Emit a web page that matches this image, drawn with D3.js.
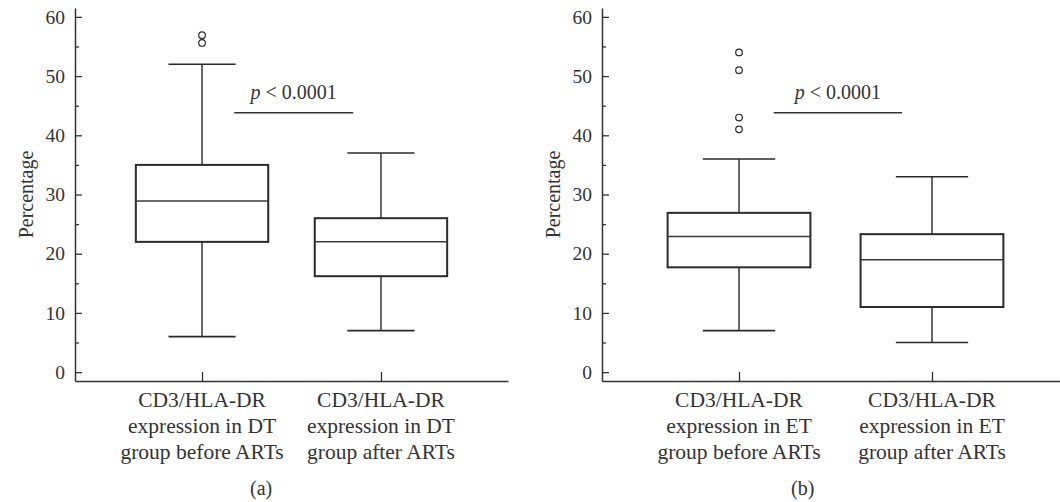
<!DOCTYPE html>
<html>
<head>
<meta charset="utf-8">
<script src="https://cdn.jsdelivr.net/npm/d3@7"></script>
<style>
  body { margin: 0; background: #fff; }
  text { font-family: "Liberation Serif", "Times New Roman", serif; fill: #333; }
</style>
</head>
<body>
<div id="chart"></div>
<script>
const width = 1060,
      height = 502;

// panel (a): DT group
const categoriesA = ["DT before", "DT after"];
const labelsA = [
  ["CD3/HLA-DR", "expression in DT", "group before ARTs"],
  ["CD3/HLA-DR", "expression in DT", "group after ARTs"]
];
const lowA = [6, 7];
const q1A = [22, 16.2];
const medianA = [28.9, 22];
const q3A = [35, 26];
const highA = [52, 37];
const outliersA = [[56.9, 55.6], []];

// panel (b): ET group
const categoriesB = ["ET before", "ET after"];
const labelsB = [
  ["CD3/HLA-DR", "expression in ET", "group before ARTs"],
  ["CD3/HLA-DR", "expression in ET", "group after ARTs"]
];
const lowB = [7, 5];
const q1B = [17.7, 11];
const medianB = [22.9, 19];
const q3B = [26.9, 23.3];
const highB = [36, 33];
const outliersB = [[54, 51, 43, 41], []];

const yTicks = [0, 10, 20, 30, 40, 50, 60];
const yMinorTicks = [5, 15, 25, 35, 45, 55];
const pText = "< 0.0001";
const pLevel = 43.8;

const svg = d3.select('#chart').append('svg')
  .attr('width', width)
  .attr('height', height);

const y = d3.scaleLinear().domain([-1.5, 61.5]).range([381, 8]);

function drawPanel(opt) {
  const g = svg.append("g");
  const x = d3.scalePoint().domain(opt.cats).range([opt.left, opt.right]).padding(0.71);
  const step = x.step();

  // y axis, ticks inward
  const yAxis = g.append("g")
    .attr("transform", `translate(${opt.left},0)`)
    .call(d3.axisLeft(y).tickValues(yTicks).tickSize(-7).tickSizeOuter(0).tickPadding(10));
  yAxis.selectAll("text").style("font-size", "19.5px").attr("fill", "#333");
  yAxis.selectAll("line").attr("stroke", "#333").attr("stroke-width", 1.3);
  yAxis.select(".domain").attr("stroke", "#333").attr("stroke-width", 1.5);

  g.append("g")
    .attr("transform", `translate(${opt.left},0)`)
    .call(d3.axisLeft(y).tickValues(yMinorTicks).tickSize(-4).tickSizeOuter(0).tickFormat(""))
    .call(s => s.select(".domain").remove())
    .selectAll("line").attr("stroke", "#333").attr("stroke-width", 1.3);

  // x axis
  const xAxis = g.append("g")
    .attr("transform", `translate(0,${y(-1.5)})`)
    .call(d3.axisBottom(x).tickSize(-9).tickSizeOuter(0).tickFormat(""));
  xAxis.selectAll("line").attr("stroke", "#333").attr("stroke-width", 1.3);
  xAxis.select(".domain").attr("stroke", "#333").attr("stroke-width", 1.5);

  // axis title
  g.append("text")
    .attr("transform", `translate(${opt.left - 42},${y(30)}) rotate(-90)`)
    .attr("text-anchor", "middle")
    .style("font-size", "20px")
    .text("Percentage");

  // category labels
  opt.cats.forEach((c, i) => {
    const t = g.append("text")
      .attr("text-anchor", "middle")
      .style("font-size", "21.5px");
    opt.labels[i].forEach((line, j) => {
      t.append("tspan")
        .attr("x", x(c))
        .attr("y", 407 + j * 26)
        .text(line);
    });
  });

  // boxes
  const boxW = step * 0.74, capW = step * 0.375;
  opt.cats.forEach((c, i) => {
    const cx = x(c);
    const b = g.append("g").attr("stroke", "#2a2a2a").attr("fill", "none");
    b.append("line")
      .attr("x1", cx).attr("x2", cx)
      .attr("y1", y(opt.high[i])).attr("y2", y(opt.q3[i]))
      .attr("stroke-width", 1.4);
    b.append("line")
      .attr("x1", cx).attr("x2", cx)
      .attr("y1", y(opt.q1[i])).attr("y2", y(opt.low[i]))
      .attr("stroke-width", 1.4);
    [opt.high[i], opt.low[i]].forEach(v => {
      b.append("line")
        .attr("x1", cx - capW / 2).attr("x2", cx + capW / 2)
        .attr("y1", y(v)).attr("y2", y(v))
        .attr("stroke-width", 1.6);
    });
    b.append("rect")
      .attr("x", cx - boxW / 2).attr("width", boxW)
      .attr("y", y(opt.q3[i])).attr("height", y(opt.q1[i]) - y(opt.q3[i]))
      .attr("fill", "#fff")
      .attr("stroke-width", 2);
    b.append("line")
      .attr("x1", cx - boxW / 2).attr("x2", cx + boxW / 2)
      .attr("y1", y(opt.median[i])).attr("y2", y(opt.median[i]))
      .attr("stroke", "#3a3a3a")
      .attr("stroke-width", 1.5);
    opt.outliers[i].forEach(v => {
      b.append("circle")
        .attr("cx", cx).attr("cy", y(v)).attr("r", 3.3)
        .attr("stroke-width", 1.2);
    });
  });

  // significance line
  const x0 = x(opt.cats[0]);
  const lx1 = x0 + step * 0.18, lx2 = x0 + step * 0.845;
  g.append("line")
    .attr("x1", lx1).attr("x2", lx2)
    .attr("y1", y(pLevel)).attr("y2", y(pLevel))
    .attr("stroke", "#333").attr("stroke-width", 1.5);
  const pt = g.append("text")
    .attr("x", (lx1 + lx2) / 2)
    .attr("y", y(pLevel) - 14)
    .attr("text-anchor", "middle")
    .style("font-size", "20px");
  pt.append("tspan").style("font-style", "italic").text("p");
  pt.append("tspan").text(" " + pText);

  // panel letter
  g.append("text")
    .attr("x", x0 + step * 0.33)
    .attr("y", 495)
    .attr("text-anchor", "middle")
    .style("font-size", "20px")
    .text(opt.letter);
}

drawPanel({
  cats: categoriesA, labels: labelsA, left: 75, right: 508,
  low: lowA, q1: q1A, median: medianA, q3: q3A, high: highA, outliers: outliersA,
  letter: "(a)"
});
drawPanel({
  cats: categoriesB, labels: labelsB, left: 602, right: 1069,
  low: lowB, q1: q1B, median: medianB, q3: q3B, high: highB, outliers: outliersB,
  letter: "(b)"
});
</script>
</body>
</html>
